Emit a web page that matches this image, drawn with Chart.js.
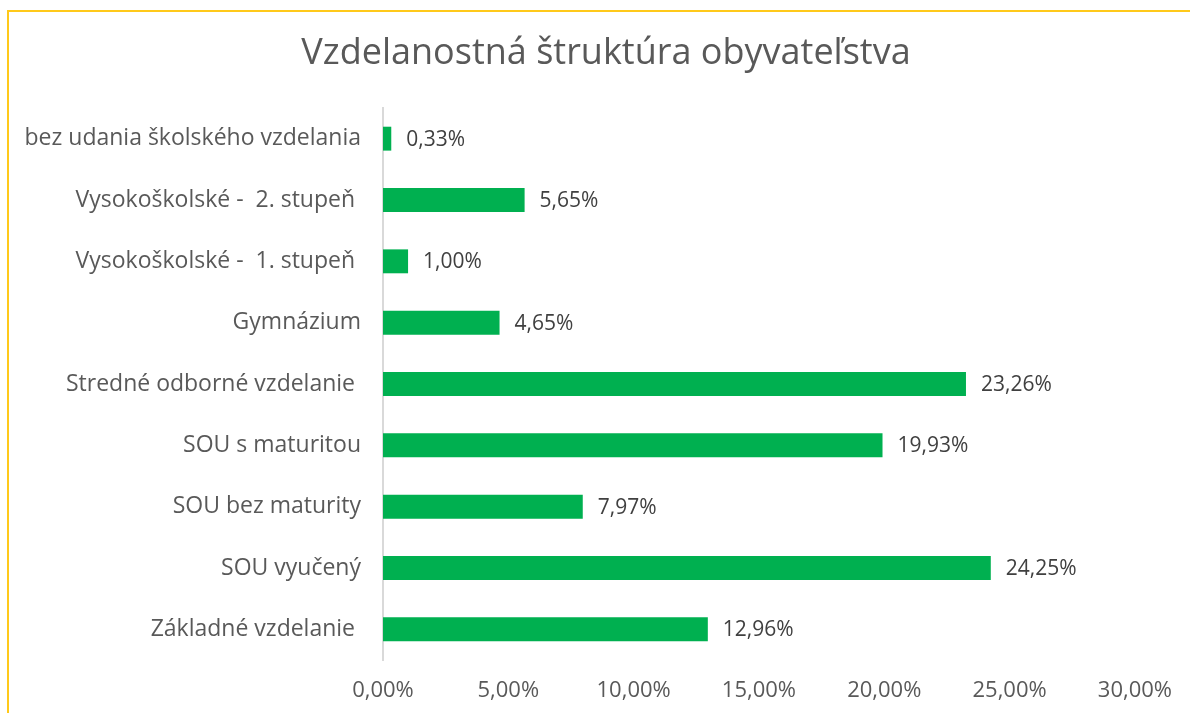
<!DOCTYPE html>
<html>
<head>
<meta charset="utf-8">
<script src="https://cdn.jsdelivr.net/npm/chart.js@4.4.0/dist/chart.umd.min.js"></script>
<style>
    html, body { margin: 0; padding: 0; background: #fff; overflow: hidden; }
    #wrap { position: relative; width: 1190px; height: 713px; }
</style>
</head>
<body>
<div id="wrap"><canvas id="eduChart" width="1190" height="713"></canvas></div>
<script>
const chartTitle = 'Vzdelanostná štruktúra obyvateľstva';
const categories = [
    'bez udania školského vzdelania',
    'Vysokoškolské -  2. stupeň ',
    'Vysokoškolské -  1. stupeň ',
    'Gymnázium',
    'Stredné odborné vzdelanie ',
    'SOU s maturitou',
    'SOU bez maturity',
    'SOU vyučený',
    'Základné vzdelanie '
];
const shares = [0.33, 5.65, 1.00, 4.65, 23.26, 19.93, 7.97, 24.25, 12.96];
const xTicks = [0, 5, 10, 15, 20, 25, 30];

const FONT = "'Open Sans', 'DejaVu Sans', sans-serif";
const fmtPct = (v) => v.toFixed(2).replace('.', ',') + '%';

// frame around the whole chart + the title, placed like in the source
const framePlugin = {
    id: 'frame',
    beforeDraw: (chart) => {
        const ctx = chart.ctx;
        ctx.save();
        ctx.strokeStyle = '#FFC91A';
        ctx.lineWidth = 2;
        ctx.strokeRect(8, 11, 1200, 720);

        ctx.font = `36px ${FONT}`;
        ctx.fillStyle = '#595959';
        ctx.textAlign = 'center';
        ctx.textBaseline = 'middle';
        ctx.fillText(chartTitle, 606, 54);
        ctx.restore();
    }
};

// value labels at the end of every bar
const valueLabels = {
    id: 'valueLabels',
    afterDatasetsDraw: (chart) => {
        const ctx = chart.ctx;
        const meta = chart.getDatasetMeta(0);
        ctx.save();
        ctx.font = `21px ${FONT}`;
        ctx.fillStyle = '#404040';
        ctx.textAlign = 'left';
        ctx.textBaseline = 'middle';
        meta.data.forEach((bar, i) => {
            ctx.fillText(fmtPct(shares[i]), bar.x + 15, bar.y + 1);
        });
        ctx.restore();
    }
};

new Chart(document.getElementById('eduChart'), {
    type: 'bar',
    data: {
        labels: categories,
        datasets: [{
            data: shares,
            backgroundColor: '#00B050',
            borderWidth: 0,
            categoryPercentage: 1,
            barPercentage: 0.39
        }]
    },
    options: {
        indexAxis: 'y',
        responsive: false,
        animation: false,
        layout: {
            padding: { top: 108, right: 49, bottom: 0, left: 0 }
        },
        scales: {
            x: {
                min: 0,
                max: 30,
                grid: { display: false, drawTicks: false },
                border: { display: false },
                afterBuildTicks: (scale) => {
                    scale.ticks = xTicks.map(v => ({ value: v }));
                },
                afterFit: (scale) => { scale.height = 53; },
                ticks: {
                    color: '#595959',
                    font: { family: FONT, size: 22 },
                    padding: 18,
                    maxRotation: 0,
                    callback: (value) => fmtPct(value)
                }
            },
            y: {
                grid: { display: false, drawTicks: false },
                border: { display: true, color: '#D9D9D9', width: 2 },
                afterFit: (scale) => { scale.width = 383; },
                ticks: {
                    color: '#595959',
                    font: { family: FONT, size: 23 },
                    padding: 22
                }
            }
        },
        plugins: {
            legend: { display: false },
            tooltip: { enabled: false },
            title: { display: false }
        }
    },
    plugins: [framePlugin, valueLabels]
});
</script>
</body>
</html>
